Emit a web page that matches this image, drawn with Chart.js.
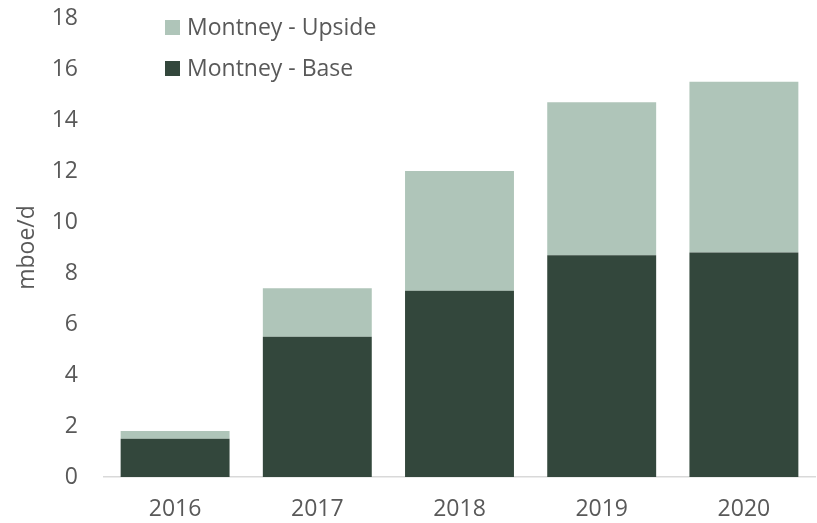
<!DOCTYPE html>
<html>
<head>
<meta charset="utf-8">
<title>Montney production</title>
<script src="https://cdn.jsdelivr.net/npm/chart.js"></script>
<style>
  html, body { margin: 0; padding: 0; background: #fff; }
  #wrap { width: 817px; height: 523px; position: relative; }
</style>
</head>
<body>
<div id="wrap"><canvas id="barChart"></canvas></div>
<script>
const years = ['2016', '2017', '2018', '2019', '2020'];
const montneyBase = [1.5, 5.5, 7.3, 8.7, 8.8];
const montneyUpside = [0.3, 1.9, 4.7, 6.0, 6.7];
const yTicks = [0, 2, 4, 6, 8, 10, 12, 14, 16, 18];

const TEXT = '#595959';
const FONT = { family: "'Open Sans', sans-serif", size: 23 };

// stacked legend in the top-left corner, upside listed first
const cornerLegend = {
  id: 'cornerLegend',
  afterDraw(chart) {
    const { ctx, chartArea } = chart;
    const items = chart.data.datasets.slice().reverse();
    ctx.save();
    ctx.font = `${FONT.size}px ${FONT.family}`;
    ctx.textBaseline = 'middle';
    items.forEach((ds, i) => {
      const x = chartArea.left + 61;
      const y = 20 + i * 41;
      ctx.fillStyle = ds.backgroundColor;
      ctx.fillRect(x, y, 15, 15);
      ctx.fillStyle = TEXT;
      ctx.fillText(ds.label, x + 22, y + 8);
    });
    ctx.restore();
  }
};

new Chart(document.getElementById('barChart'), {
  type: 'bar',
  data: {
    labels: years,
    datasets: [
      {
        label: 'Montney - Base',
        data: montneyBase,
        backgroundColor: '#33473C',
        barPercentage: 0.766,
        categoryPercentage: 1
      },
      {
        label: 'Montney - Upside',
        data: montneyUpside,
        backgroundColor: '#AFC5B9',
        barPercentage: 0.766,
        categoryPercentage: 1
      }
    ]
  },
  options: {
    responsive: true,
    maintainAspectRatio: false,
    animation: false,
    layout: { padding: { top: 0, right: 2, left: 0, bottom: 0 } },
    plugins: {
      legend: { display: false },
      tooltip: { enabled: false }
    },
    scales: {
      x: {
        stacked: true,
        grid: { display: false, drawTicks: false },
        border: { display: true, color: '#D9D9D9', width: 1.5 },
        ticks: { color: TEXT, font: FONT, padding: 19 },
        afterFit(scale) { scale.height = 46; }
      },
      y: {
        stacked: true,
        min: 0,
        max: 18,
        grid: { display: false, drawTicks: false },
        border: { display: false },
        afterBuildTicks(scale) { scale.ticks = yTicks.map(v => ({ value: v })); },
        ticks: { color: TEXT, font: FONT, padding: 26 },
        title: {
          display: true,
          text: 'mboe/d',
          color: TEXT,
          font: FONT,
          padding: { top: 14, bottom: 0 }
        },
        afterFit(scale) {
          scale.width = 104;
          scale.paddingTop = 18;
          scale.paddingBottom = 0;
        }
      }
    }
  },
  plugins: [cornerLegend]
});
</script>
</body>
</html>
